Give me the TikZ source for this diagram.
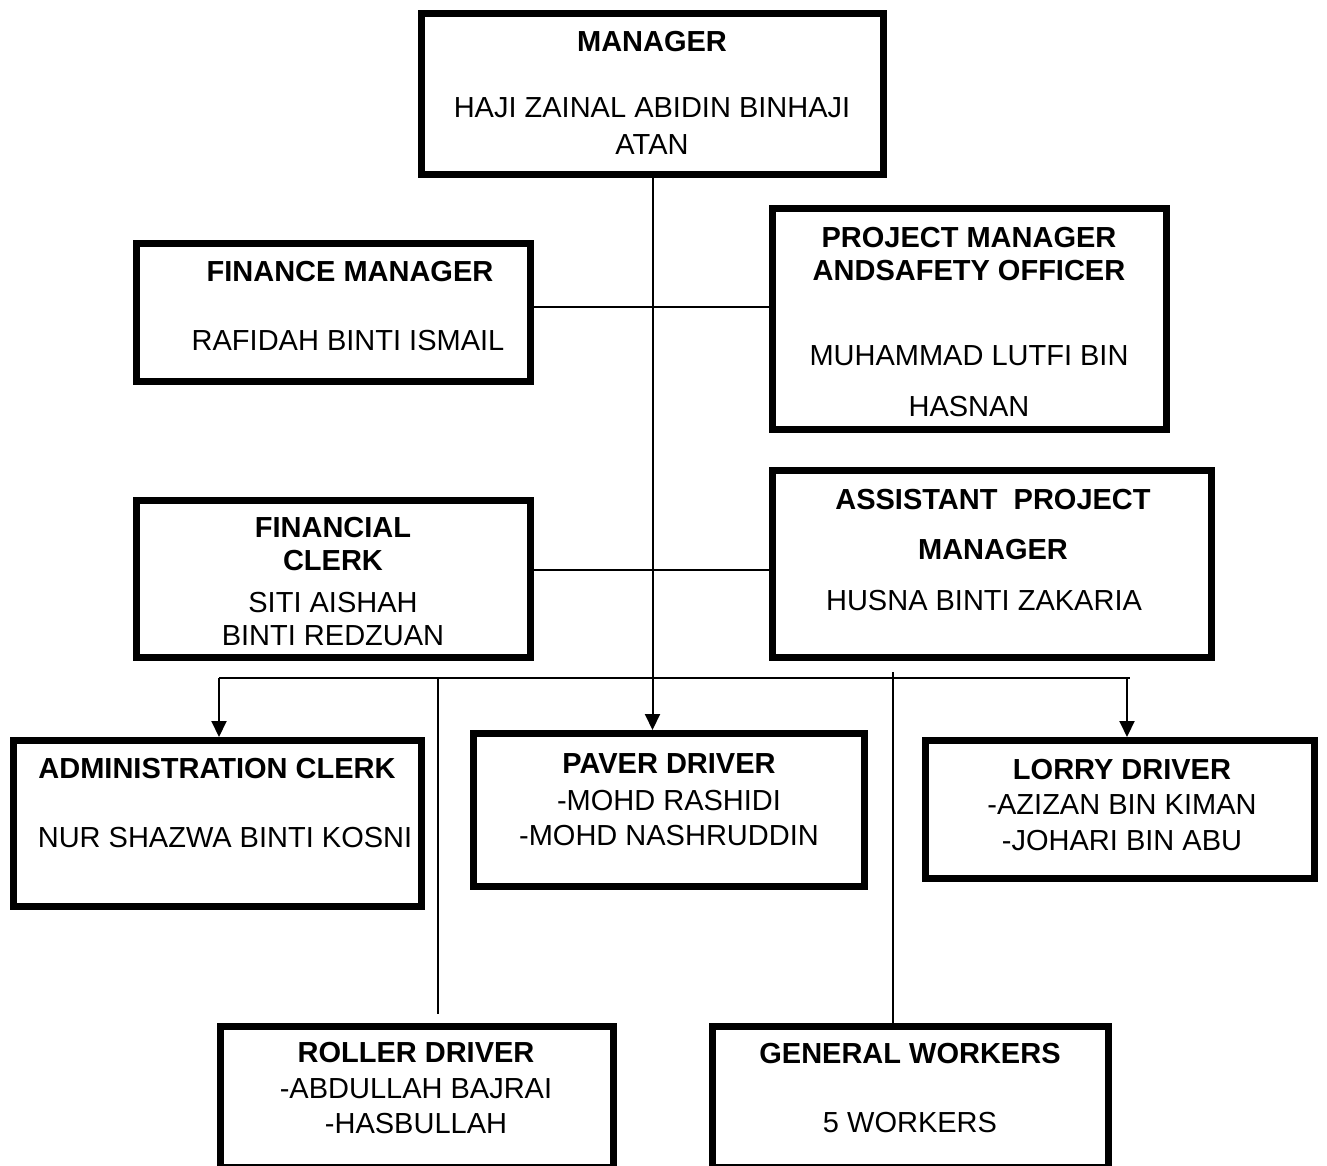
\documentclass[tikz,border=0pt]{standalone}
\usepackage{fontspec}
\setmainfont{Liberation Sans}
\usetikzlibrary{arrows.meta}
\begin{document}
\begin{tikzpicture}[x=1pt,y=-1pt,
  box/.style={draw=black,line width=7pt,rectangle,inner sep=0pt},
  conn/.style={draw=black,line width=2pt},
  arr/.style={conn,-{Triangle[width=15pt,length=16pt]}},
  hd/.style={inner sep=0pt,font=\fontsize{29}{34}\selectfont\bfseries},
  tx/.style={inner sep=0pt,font=\fontsize{29}{34}\selectfont}]
\useasboundingbox (0,0) rectangle (1327,1166);
% boxes
\node[box,minimum width=462pt,minimum height=161pt] (mgr) at (652.5,94) {};
\node[box,minimum width=394pt,minimum height=138pt] (fm) at (333.5,312.5) {};
\node[box,minimum width=394pt,minimum height=221pt] (pm) at (969.5,319) {};
\node[box,minimum width=394pt,minimum height=157pt] (fc) at (333.5,579) {};
\node[box,minimum width=439pt,minimum height=187pt] (apm) at (992,564) {};
\node[box,minimum width=408pt,minimum height=166pt] (adm) at (217.5,823.5) {};
\node[box,minimum width=391pt,minimum height=153pt] (pav) at (669,810) {};
\node[box,minimum width=389pt,minimum height=138pt] (lor) at (1120,809.5) {};
\node[box,minimum width=393pt,minimum height=141pt] (rol) at (417,1097) {};
\node[box,minimum width=396pt,minimum height=141pt] (gen) at (910.5,1097) {};
% texts
\node[hd] (t1) at (652,42) {MANAGER};
\node[tx] (t2) at (652,108) {HAJI ZAINAL ABIDIN BINHAJI};
\node[tx] (t3) at (652,145) {ATAN};
\node[hd] (t4) at (350,272) {FINANCE MANAGER};
\node[tx] (t5) at (348,341) {RAFIDAH BINTI ISMAIL};
\node[hd] (t6) at (969,238) {PROJECT MANAGER};
\node[hd] (t7) at (969,271) {ANDSAFETY OFFICER};
\node[tx] (t8) at (969,356) {MUHAMMAD LUTFI BIN};
\node[tx] (t9) at (969,407) {HASNAN};
\node[hd] (t10) at (333,528) {FINANCIAL};
\node[hd] (t11) at (333,561) {CLERK};
\node[tx] (t12) at (333,603) {SITI AISHAH};
\node[tx] (t13) at (333,636) {BINTI REDZUAN};
\node[hd] (t14) at (993,500) {ASSISTANT\ \ PROJECT};
\node[hd] (t15) at (993,550) {MANAGER};
\node[tx] (t16) at (984,601) {HUSNA BINTI ZAKARIA};
\node[hd] (t17) at (217,769) {ADMINISTRATION CLERK};
\node[tx] (t18) at (225,838) {NUR SHAZWA BINTI KOSNI};
\node[hd] (t19) at (669,764) {PAVER DRIVER};
\node[tx] (t20) at (669,801) {-MOHD RASHIDI};
\node[tx] (t21) at (669,836) {-MOHD NASHRUDDIN};
\node[hd] (t22) at (1122,770) {LORRY DRIVER};
\node[tx] (t23) at (1122,805) {-AZIZAN BIN KIMAN};
\node[tx] (t24) at (1122,841) {-JOHARI BIN ABU};
\node[hd] (t25) at (416,1053) {ROLLER DRIVER};
\node[tx] (t26) at (416,1089) {-ABDULLAH BAJRAI};
\node[tx] (t27) at (416,1124) {-HASBULLAH};
\node[hd] (t28) at (910,1054) {GENERAL WORKERS};
\node[tx] (t29) at (910,1123) {5 WORKERS};
% connector coordinates
\coordinate (bL) at (219,678);
\coordinate (bR) at (1130,678);
\coordinate (bA) at (1127,678);
\coordinate (bRo) at (438,678);
\coordinate (bG) at (893,672);
% connectors
\draw[arr] (mgr.south) -- (mgr.south |- pav.north);
\draw[conn] ([yshift=5.5pt]fm.east) -- ([yshift=5.5pt]fm.east -| pm.west);
\draw[conn] ([yshift=9pt]fc.east) -- ([yshift=9pt]fc.east -| apm.west);
\draw[conn] (bL) -- (bR);
\draw[arr] (bL) -- (bL |- adm.north);
\draw[arr] (bA) -- (bA |- lor.north);
\draw[conn] (bRo) -- ([yshift=9pt]bRo |- rol.north);
\draw[conn] (bG) -- ([yshift=-2pt]bG |- gen.north);
\end{tikzpicture}
\end{document}
